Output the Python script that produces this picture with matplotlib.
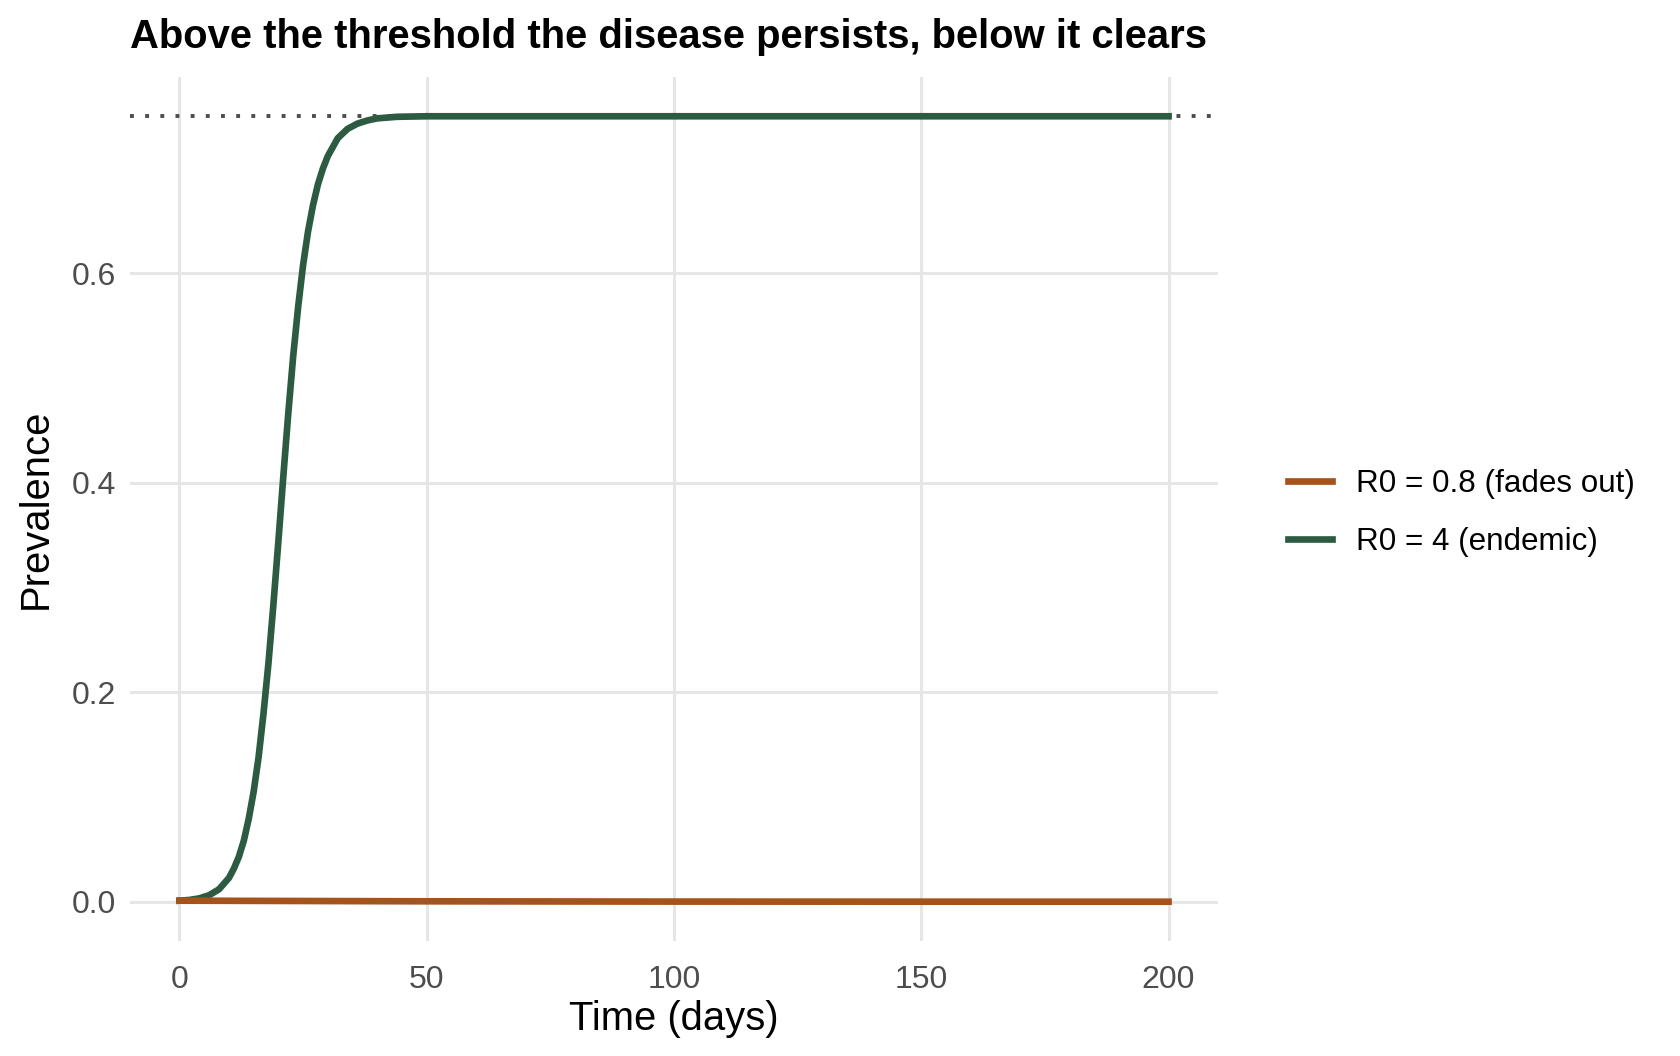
import numpy as np
import matplotlib.pyplot as plt

plt.rcParams['font.family'] = ['Liberation Sans', 'DejaVu Sans']

# prevalence, R0 = 4
days_endemic = [0, 2, 4, 6, 8, 10, 11, 12, 13, 14, 15, 16, 17, 18, 19, 20,
                21, 22, 23, 24, 25, 26, 27, 28, 29, 30, 32, 34, 36, 38, 40,
                44, 50, 60, 100, 150, 200]
prev_endemic = [0.001, 0.0017, 0.0032, 0.0062, 0.0119, 0.0227, 0.0316, 0.0428,
                0.058, 0.079, 0.105, 0.138, 0.18, 0.228, 0.284, 0.344, 0.406,
                0.466, 0.521, 0.568, 0.608, 0.64, 0.665, 0.685, 0.70, 0.712,
                0.729, 0.738, 0.743, 0.746, 0.748, 0.7495, 0.75, 0.75, 0.75,
                0.75, 0.75]

# R0 = 0.8, decays from the same start
days_fade = [0, 50, 100, 150, 200]
prev_fade = [0.001, 0.0004, 0.00014, 0.00005, 0.00002]

endemic_level = 0.75

labels = ["R0 = 0.8 (fades out)", "R0 = 4 (endemic)"]
colors = ["#A5531B", "#2D5B42"]

fig = plt.figure(figsize=(8.4, 5.28), dpi=200)
ax = fig.add_axes([130 / 1680, 1 - 941 / 1056, 1088 / 1680, 864 / 1056])

ax.axhline(endemic_level, color="#4D4D4D", lw=1.4, linestyle=(0, (1, 2.9)), zorder=1)
ax.plot(days_fade, prev_fade, color=colors[0], lw=2.4, label=labels[0], zorder=3)
ax.plot(days_endemic, prev_endemic, color=colors[1], lw=2.4, label=labels[1], zorder=2)

ax.set_xlim(-10, 210)
ax.set_ylim(-0.0375, 0.7875)
ax.set_xticks([0, 50, 100, 150, 200])
ax.set_yticks([0.0, 0.2, 0.4, 0.6])
ax.set_yticklabels(["0.0", "0.2", "0.4", "0.6"])

ax.grid(True, color="#E6E6E6", lw=1.1)
ax.set_axisbelow(True)
for s in ax.spines.values():
    s.set_visible(False)
ax.tick_params(length=0, labelsize=11.5, labelcolor="#4D4D4D")
ax.tick_params(axis="x", pad=8.5)
ax.tick_params(axis="y", pad=5)

ax.set_xlabel("Time (days)", fontsize=14.4, labelpad=2)
ax.set_ylabel("Prevalence", fontsize=14.4, labelpad=6)
fig.text(130 / 1680, 1 - 37 / 1056, "Above the threshold the disease persists, below it clears",
         fontsize=14.4, fontweight="bold", ha="left", va="center")

fig.legend(loc="center left", bbox_to_anchor=(1260 / 1680, 1 - 513 / 1056),
           frameon=False, fontsize=11.3, handlelength=1.38, handletextpad=0.78,
           labelspacing=0.92)

fig.savefig("out.png", dpi=200)
